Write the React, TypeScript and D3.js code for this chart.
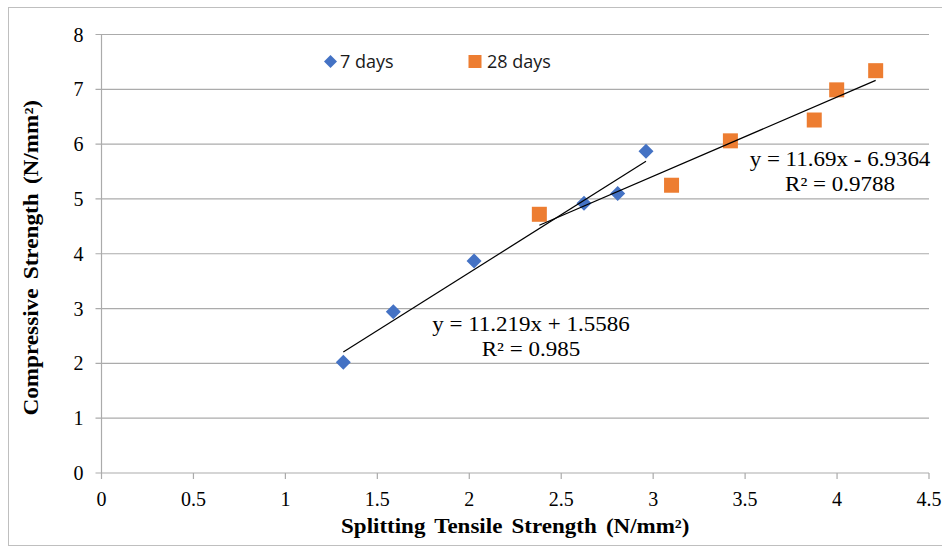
import React from "react";
import * as d3 from "d3";

// splitting tensile strength (x) vs compressive strength (y), N/mm²
const days7X = [1.315, 1.587, 2.026, 2.624, 2.807, 2.961];
const days7Y = [2.02, 2.94, 3.87, 4.92, 5.1, 5.87];
const days28X = [2.381, 3.1, 3.42, 3.876, 3.998, 4.21];
const days28Y = [4.72, 5.25, 6.06, 6.44, 6.99, 7.34];

const xTicks = [0, 0.5, 1, 1.5, 2, 2.5, 3, 3.5, 4, 4.5];
const yTicks = [0, 1, 2, 3, 4, 5, 6, 7, 8];

const eq7 = ["y = 11.219x + 1.5586", "R² = 0.985"];
const eq28 = ["y = 11.69x - 6.9364", "R² = 0.9788"];

const BLUE = "#4472C4";
const ORANGE = "#ED7D31";
const GRID = "#ABABAB";
const SERIF = "'Liberation Serif', 'Times New Roman', serif";

// least squares fit of y on x
const fit = (xs: number[], ys: number[]) => {
  const mx = d3.mean(xs)!;
  const my = d3.mean(ys)!;
  const sxy = d3.sum(xs, (x, i) => (x - mx) * (ys[i] - my));
  const sxx = d3.sum(xs, (x) => (x - mx) * (x - mx));
  const slope = sxy / sxx;
  const b = my - slope * mx;
  const x0 = d3.min(xs)!;
  const x1 = d3.max(xs)!;
  return [[x0, slope * x0 + b], [x1, slope * x1 + b]] as [number, number][];
};

const Diamond = ({ cx, cy, r }: { cx: number; cy: number; r: number }) => (
  <path d={`M${cx},${cy - r}L${cx + r},${cy}L${cx},${cy + r}L${cx - r},${cy}Z`} fill={BLUE} />
);

const Square = ({ cx, cy, s }: { cx: number; cy: number; s: number }) => (
  <rect x={cx - s / 2} y={cy - s / 2} width={s} height={s} fill={ORANGE} />
);

const Equation = ({ x, y, lines }: { x: number; y: number; lines: string[] }) => (
  <g transform={`translate(${x},${y}) scale(1.15,1)`}>
    {lines.map((t, i) => (
      <text key={i} y={i * 25.5} textAnchor="middle" fontFamily={SERIF} fontSize="20" fill="#000">
        {t}
      </text>
    ))}
  </g>
);

export default function App() {
  const width = 942;
  const height = 548;
  const margin = { top: 34.5, right: 13, bottom: 75, left: 101.5 };

  const x = d3.scaleLinear().domain([0, 4.5]).range([margin.left, width - margin.right]);
  const y = d3.scaleLinear().domain([0, 8]).range([height - margin.bottom, margin.top]);

  const line = d3.line<[number, number]>().x((d) => x(d[0])).y((d) => y(d[1]));
  const trend7 = fit(days7X, days7Y);
  const trend28 = fit(days28X, days28Y);

  return (
    <svg width={width} height={height} style={{ position: "absolute", left: 0, top: 0 }}>
      <rect x={8.5} y={7.5} width={940} height={538} fill="#fff" stroke="#BFBFBF" />

      {/* gridlines + y ticks */}
      {yTicks.map((t) => (
        <g key={t}>
          <line x1={x(0) - 6} x2={x(4.5)} y1={y(t)} y2={y(t)} stroke={GRID} strokeWidth={1.2} />
          <text x={x(0) - 18} y={y(t)} dy="0.35em" textAnchor="end" fontFamily={SERIF} fontSize="20">
            {t}
          </text>
        </g>
      ))}
      <line x1={x(0)} x2={x(0)} y1={y(0)} y2={y(8)} stroke={GRID} strokeWidth={1.2} />

      {/* x ticks */}
      {xTicks.map((t) => (
        <g key={t}>
          <line x1={x(t)} x2={x(t)} y1={y(0)} y2={y(0) + 6} stroke={GRID} strokeWidth={1.2} />
          <text x={x(t)} y={y(0) + 33} textAnchor="middle" fontFamily={SERIF} fontSize="20">
            {t}
          </text>
        </g>
      ))}

      {/* markers */}
      {days7X.map((v, i) => (
        <Diamond key={"b" + i} cx={x(v)} cy={y(days7Y[i])} r={7.5} />
      ))}
      {days28X.map((v, i) => (
        <Square key={"o" + i} cx={x(v)} cy={y(days28Y[i])} s={15} />
      ))}

      {/* trend lines */}
      <path d={line(trend7)!} fill="none" stroke="#000" strokeWidth={1.2} />
      <path d={line(trend28)!} fill="none" stroke="#000" strokeWidth={1.2} />

      <Equation x={531} y={331} lines={eq7} />
      <Equation x={840} y={166} lines={eq28} />

      {/* legend */}
      <Diamond cx={330.5} cy={61.5} r={6.5} />
      <text x={340} y={68} fontFamily="'Open Sans', sans-serif" fontSize="18" fill="#1a1a1a">7 days</text>
      <Square cx={475} cy={61.5} s={13} />
      <text x={487} y={68} fontFamily="'Open Sans', sans-serif" fontSize="18" fill="#1a1a1a">28 days</text>

      {/* axis titles */}
      <g transform={`translate(${(x(0) + x(4.5)) / 2},533) scale(1.15,1)`}>
        <text textAnchor="middle" fontFamily={SERIF} fontWeight="bold" fontSize="20" wordSpacing="3">
          Splitting Tensile Strength (N/mm²)
        </text>
      </g>
      <g transform={`translate(38,${y(4) + 4}) rotate(-90) scale(1.16,1)`}>
        <text textAnchor="middle" fontFamily={SERIF} fontWeight="bold" fontSize="20" wordSpacing="3">
          Compressive Strength (N/mm²)
        </text>
      </g>
    </svg>
  );
}
